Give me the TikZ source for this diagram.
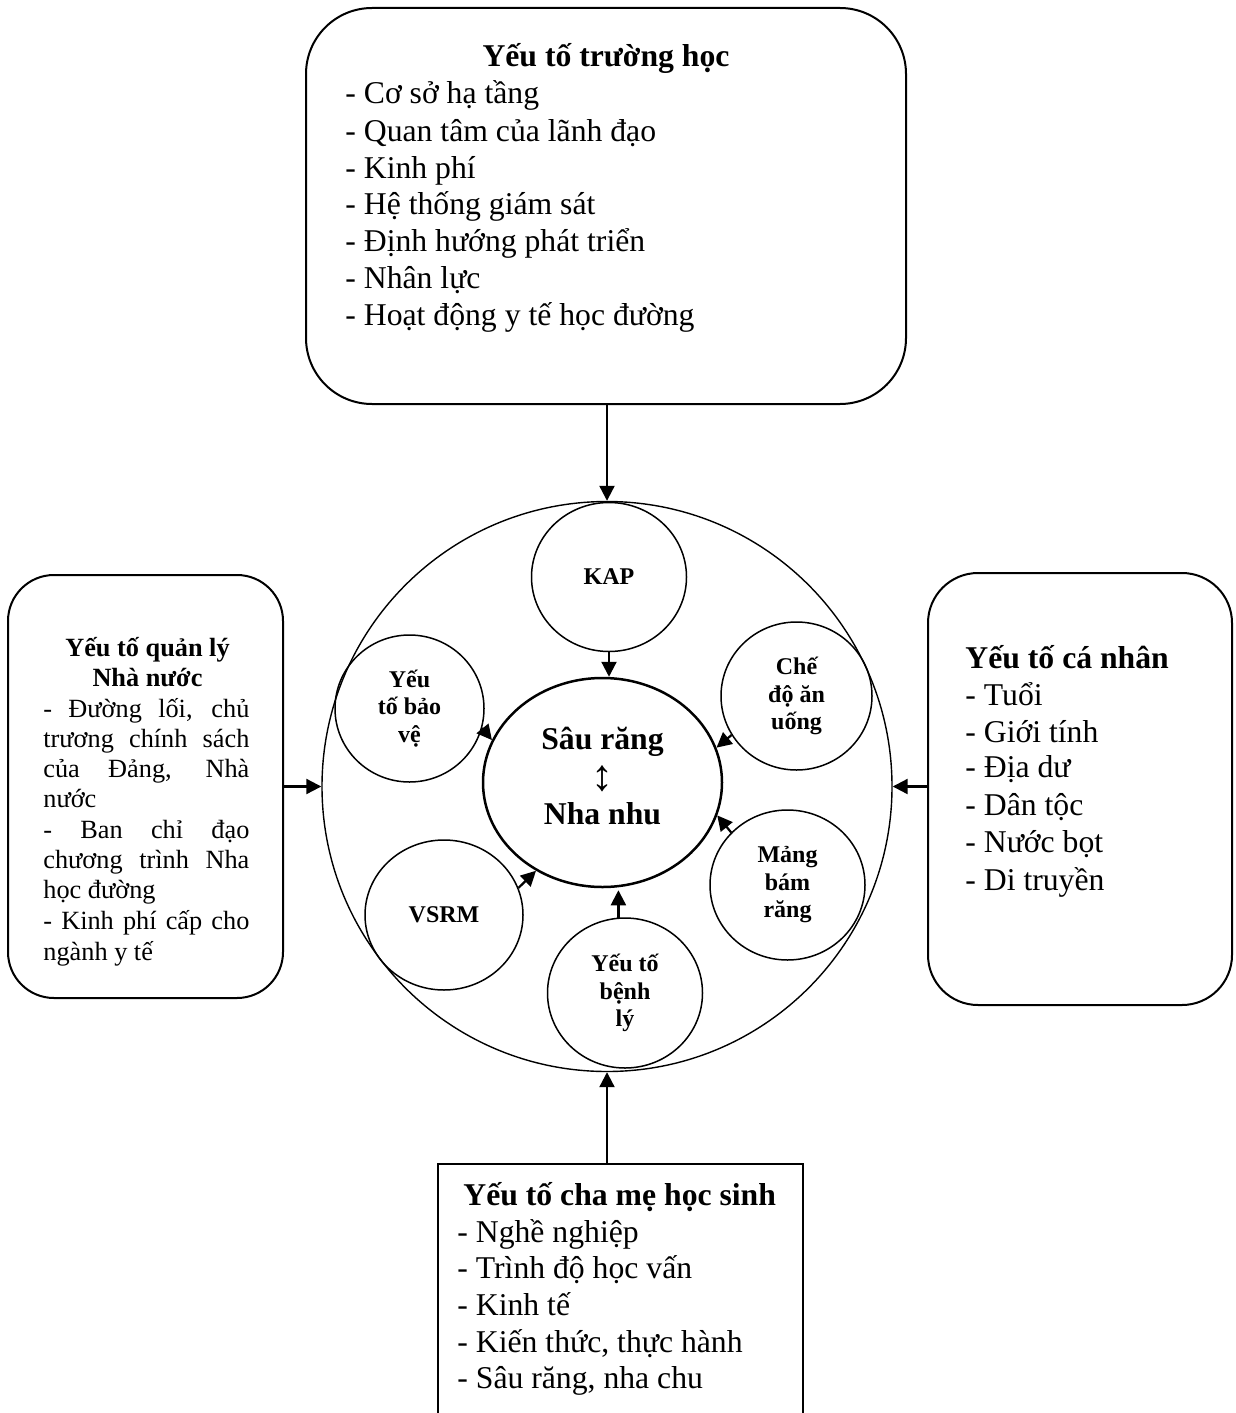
\documentclass[tikz,border=0pt]{standalone}
\usepackage{fontspec}
\setmainfont{Liberation Serif}
\usetikzlibrary{arrows.meta,shapes.geometric}
\begin{document}
\begin{tikzpicture}[x=0.5pt,y=-0.5pt,
  rbox/.style={draw,line width=1pt,rounded corners=#1,inner sep=0pt},
  body/.style={inner sep=0pt,font=\fontsize{15.85}{18.35}\selectfont},
  bodyb/.style={inner sep=0pt,font=\fontsize{15.85}{18.35}\selectfont\bfseries},
  lbody/.style={inner sep=0pt,font=\fontsize{13.15}{15.2}\selectfont},
  lbodyb/.style={inner sep=0pt,font=\fontsize{13.15}{15.2}\selectfont\bfseries},
  sm/.style={ellipse,draw,line width=0.75pt,inner sep=0pt,align=center,
    font=\fontsize{12}{13.75}\selectfont\bfseries},
  arr/.style={-{Triangle[length=7.5pt,width=7.5pt]},line width=1.1pt}]
\useasboundingbox (0,0) rectangle (1236,1413);
\clip (0,0) rectangle (1236,1413);

% boxes
\node[rbox=33pt,minimum width=300pt,minimum height=198pt] (school) at (606,206) {};
\node[rbox=23pt,minimum width=137.5pt,minimum height=211.5pt] (state) at (145.5,786.5) {};
\node[rbox=25pt,minimum width=152pt,minimum height=216pt] (personal) at (1080,789) {};
\node[draw,line width=1pt,inner sep=0pt,anchor=north west,minimum width=182.5pt,minimum height=140pt] (parents) at (437,1163) {};

% circles
\node[circle,draw,line width=0.7pt,minimum size=285pt,inner sep=0pt] (outer) at (607,786.5) {};
\node[ellipse,draw,line width=1.25pt,minimum width=119.5pt,minimum height=104.5pt,inner sep=0pt] (core) at (602.5,782.5) {};
\node[sm,minimum width=77.5pt,minimum height=74.5pt] (kap) at (609,577) {KAP};
\node[sm,minimum width=75.5pt,minimum height=74pt] (che) at (796.5,696) {Chế\\độ ăn\\uống};
\node[sm,minimum width=74.5pt,minimum height=73.5pt] (bv) at (409.5,708.5) {Yếu\\tố bảo\\vệ};
\node[sm,minimum width=77.5pt,minimum height=75pt] (mang) at (787.5,885) {Mảng\\bám\\răng};
\node[sm,minimum width=79pt,minimum height=75pt] (vsrm) at (444,915) {VSRM};
\node[sm,minimum width=77.5pt,minimum height=75pt] (benh) at (625,993) {Yếu tố\\bệnh\\lý};

% central text
\node[bodyb,anchor=base] (c1) at (602.5,749) {Sâu răng};
\node[inner sep=0pt,font=\fontsize{22}{24}\selectfont] (c2) at (602,779) {↕};
\node[bodyb,anchor=base] (c3) at (602.5,824) {Nha nhu};

% school text
\node[bodyb,anchor=base] (st) at (606,67) {Yếu tố trường học};
\foreach \yy/\tt [count=\i] in {104/{- Cơ sở hạ tầng},141/{- Quan tâm của lãnh đạo},178/{- Kinh phí},214/{- Hệ thống giám sát},251/{- Định hướng phát triển},288/{- Nhân lực},325/{- Hoạt động y tế học đường}}
  \node[body,anchor=base west] (s\i) at (345,\yy) {\tt};

% personal text
\node[bodyb,anchor=base west] (pt) at (965,668) {Yếu tố cá nhân};
\foreach \yy/\tt [count=\i] in {705/{- Tuổi},742/{- Giới tính},777/{- Địa dư},815/{- Dân tộc},852/{- Nước bọt},890/{- Di truyền}}
  \node[body,anchor=base west] (p\i) at (965,\yy) {\tt};

% parents text
\node[bodyb,anchor=base west] (ft) at (463,1205) {Yếu tố cha mẹ học sinh};
\foreach \yy/\tt [count=\i] in {1242/{- Nghề nghiệp},1278/{- Trình độ học vấn},1315/{- Kinh tế},1352/{- Kiến thức, thực hành},1388/{- Sâu răng, nha chu}}
  \node[body,anchor=base west] (f\i) at (457,\yy) {\tt};

% state text
\node[lbodyb,anchor=base] (qt1) at (147.5,656) {Yếu tố quản lý};
\node[lbodyb,anchor=base] (qt2) at (147.5,686) {Nhà nước};
\node[lbody,anchor=base west] (q1) at (43,717) {\makebox[103pt][s]{- Đường lối, chủ}};
\node[lbody,anchor=base west] (q2) at (43,747) {\makebox[103pt][s]{trương chính sách}};
\node[lbody,anchor=base west] (q3) at (43,777) {\makebox[103pt][s]{của Đảng, Nhà}};
\node[lbody,anchor=base west] (q4) at (43,807) {nước};
\node[lbody,anchor=base west] (q5) at (43,838) {\makebox[103pt][s]{- Ban chỉ đạo}};
\node[lbody,anchor=base west] (q6) at (43,868) {\makebox[103pt][s]{chương trình Nha}};
\node[lbody,anchor=base west] (q7) at (43,898) {học đường};
\node[lbody,anchor=base west] (q8) at (43,929) {\makebox[103pt][s]{- Kinh phí cấp cho}};
\node[lbody,anchor=base west] (q9) at (43,960) {ngành y tế};

% outer arrows
\draw[arr] (outer.north |- school.south) -- (outer.north);
\draw[arr] (state.east) -- (outer.west);
\draw[arr] (personal.west |- outer.east) -- (outer.east);
\draw[arr] (outer.south |- parents.north) -- (outer.south);

% inner arrows
\draw[arr] (kap.south) -- (kap.south |- core.north);
\draw[arr] (bv.-15) -- (core.159);
\draw[arr] (che.211) -- (core.17);
\draw[arr] (mang.137) -- (core.-16);
\draw[arr] (vsrm.20) -- (core.233);
\draw[arr] (benh.95) -- ([yshift=-1pt]benh.95 |- core.south);
\end{tikzpicture}
\end{document}
